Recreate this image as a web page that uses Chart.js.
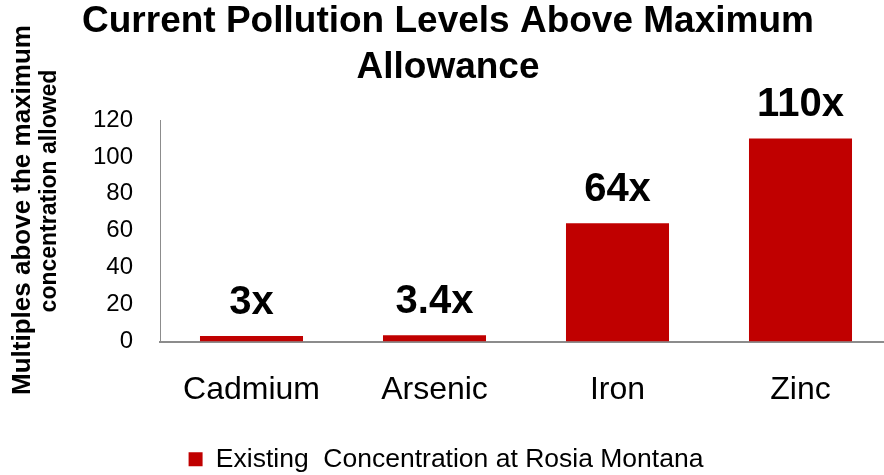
<!DOCTYPE html>
<html>
<head>
<meta charset="utf-8">
<script src="https://cdn.jsdelivr.net/npm/chart.js@4/dist/chart.umd.min.js"></script>
<style>
  html, body { margin: 0; padding: 0; background: #fff; overflow: hidden; }
  /* plot area runs a little past the right edge in the original */
  #wrap { width: 892px; height: 475px; }
</style>
</head>
<body>
<div id="wrap"><canvas id="graphique-pollution"></canvas></div>
<script>
// data
const categories = ["Cadmium", "Arsenic", "Iron", "Zinc"];
const multiples = [3, 3.4, 64, 110];
const etiquettes = ["3x", "3.4x", "64x", "110x"];
const titreLignes = ["Current Pollution Levels Above Maximum", "Allowance"];
const titreAxeY = ["Multiples above the maximum", "concentration allowed"];
const nomSerie = "Existing  Concentration at Rosia Montana";

const police = "'Liberation Sans', Arial, sans-serif";

// title, y axis title and value labels drawn on the canvas
const textesPlugin = {
  id: "textes",
  afterDatasetsDraw(chart) {
    const ctx = chart.ctx;
    ctx.save();
    ctx.fillStyle = "#000";

    // value labels above each bar
    ctx.font = "bold 40px " + police;
    ctx.textAlign = "center";
    ctx.textBaseline = "alphabetic";
    const barres = chart.getDatasetMeta(0).data;
    for (let i = 0; i < barres.length; i++) {
      ctx.fillText(etiquettes[i], barres[i].x, barres[i].y - 22);
    }

    // chart title
    ctx.font = "bold 37px " + police;
    ctx.textBaseline = "middle";
    ctx.fillText(titreLignes[0], 448, 22);
    ctx.fillText(titreLignes[1], 448, 68);

    // rotated y axis title
    ctx.save();
    ctx.font = "bold 26px " + police;
    ctx.translate(23, 210);
    ctx.rotate(-Math.PI / 2);
    ctx.fillText(titreAxeY[0], 0, 0);
    ctx.restore();
    ctx.font = "bold 23px " + police;
    ctx.translate(50, 191);
    ctx.rotate(-Math.PI / 2);
    ctx.fillText(titreAxeY[1], 0, 0);
    ctx.restore();
  }
};

const data = {
  labels: categories,
  datasets: [{
    label: nomSerie,
    data: multiples,
    backgroundColor: "#C00000",
    borderWidth: 0,
    barPercentage: 0.563,
    categoryPercentage: 1.0,
  }],
};

const config = {
  type: "bar",
  data: data,
  options: {
    responsive: true,
    maintainAspectRatio: false,
    animation: false,
    layout: {
      padding: { top: 120, right: 0, bottom: -7.5, left: 0 },
    },
    plugins: {
      title: { display: false },
      tooltip: { enabled: false },
      legend: {
        position: "bottom",
        labels: {
          boxWidth: 14,
          boxHeight: 14,
          padding: 10,
          color: "#000",
          font: { family: police, size: 26.5 },
        },
      },
    },
    scales: {
      x: {
        grid: { display: false, drawTicks: false },
        border: { display: true, color: "#8c8c8c", width: 2 },
        ticks: {
          color: "#000",
          padding: 29,
          font: { family: police, size: 32 },
        },
        afterFit(scale) { scale.height = 94.5; },
      },
      y: {
        min: 0,
        max: 120,
        grid: { display: false, drawTicks: false },
        border: { display: true, color: "#8c8c8c", width: 1 },
        ticks: {
          stepSize: 20,
          color: "#000",
          padding: 27,
          font: { family: police, size: 24 },
        },
        afterFit(scale) { scale.width = 160; },
      },
    },
  },
  plugins: [textesPlugin],
};

new Chart(document.querySelector("#graphique-pollution"), config);
</script>
</body>
</html>
